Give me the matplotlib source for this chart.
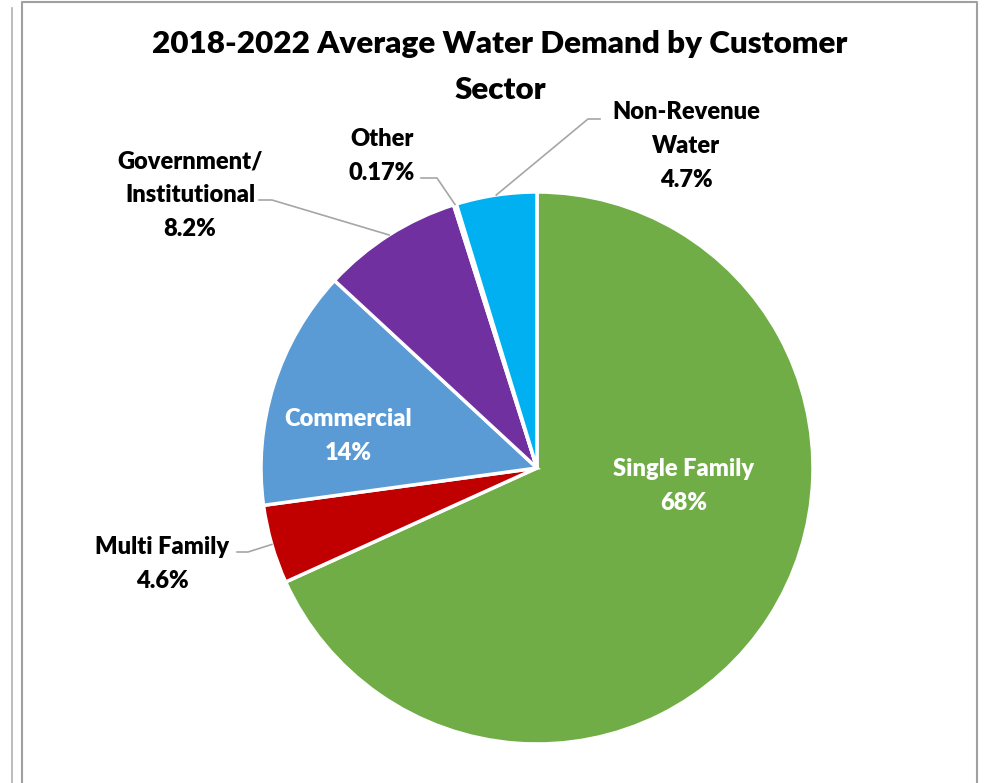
import matplotlib.pyplot as plt
import numpy as np

plt.rcParams['font.family'] = ['Lato', 'DejaVu Sans']

sectors = ['Single Family', 'Multi Family', 'Commercial',
           'Government/\nInstitutional', 'Other', 'Non-Revenue\nWater']
shares = [68, 4.6, 14, 8.2, 0.17, 4.7]
pct_labels = ['68%', '4.6%', '14%', '8.2%', '0.17%', '4.7%']
colors = ['#70AD47', '#C00000', '#5B9BD5', '#7030A0', '#E0E0E0', '#00B0F0']

W, H = 984, 783


def Y(y):
    # pixel row (from top) -> data y
    return H - y


fig = plt.figure(figsize=(W / 100, H / 100), dpi=100)
ax = fig.add_axes([0, 0, 1, 1])

cx, cy, r = 537, 468, 276
wedges, _ = ax.pie(shares, colors=colors, startangle=90, counterclock=False,
                   center=(cx, Y(cy)), radius=r,
                   wedgeprops=dict(edgecolor='white', linewidth=2.5))
ax.set_xlim(0, W)
ax.set_ylim(0, H)
ax.axis('off')

# frames
ax.plot([22, 22, 977, 977], [0, Y(2), Y(2), 0], color='#a0a0a0', lw=1.5)
ax.plot([12, 12], [0, Y(8)], color='#b0b0b0', lw=1.2)

ax.text(500, Y(67), '2018-2022 Average Water Demand by Customer\nSector',
        ha='center', va='center', fontsize=22.6, fontweight='heavy',
        linespacing=1.76, color='black')


def anchor(i):
    w = wedges[i]
    a = np.deg2rad((w.theta1 + w.theta2) / 2)
    return cx + r * np.cos(a), Y(cy) + r * np.sin(a)


lbl = dict(ha='center', va='center', fontsize=17, fontweight='heavy',
           linespacing=1.65)

# inside labels
ax.text(684, Y(486), sectors[0] + '\n' + pct_labels[0], color='white', **lbl)
ax.text(348, Y(436), sectors[2] + '\n' + pct_labels[2], color='white', **lbl)

# outside labels with leader lines
ax.text(162, Y(564), sectors[1] + '\n' + pct_labels[1], color='black', **lbl)
ax.text(190, Y(195), sectors[3] + '\n' + pct_labels[3], color='black', **lbl)
ax.text(382, Y(156), sectors[4] + '\n' + pct_labels[4], color='black', **lbl)
ax.text(686, Y(146), sectors[5] + '\n' + pct_labels[5], color='black', **lbl)

leaders = {
    1: [(237, 552), (248, 552)],
    3: [(259, 200), (272, 200)],
    4: [(421, 178), (437, 178)],
    5: [(600, 119), (588, 119)],
}
for i, pts in leaders.items():
    ax_, ay_ = anchor(i)
    xs = [p[0] for p in pts] + [ax_]
    ys = [Y(p[1]) for p in pts] + [ay_]
    ax.plot(xs, ys, color='#a6a6a6', lw=1.2)

fig.savefig('out.png', dpi=100)
